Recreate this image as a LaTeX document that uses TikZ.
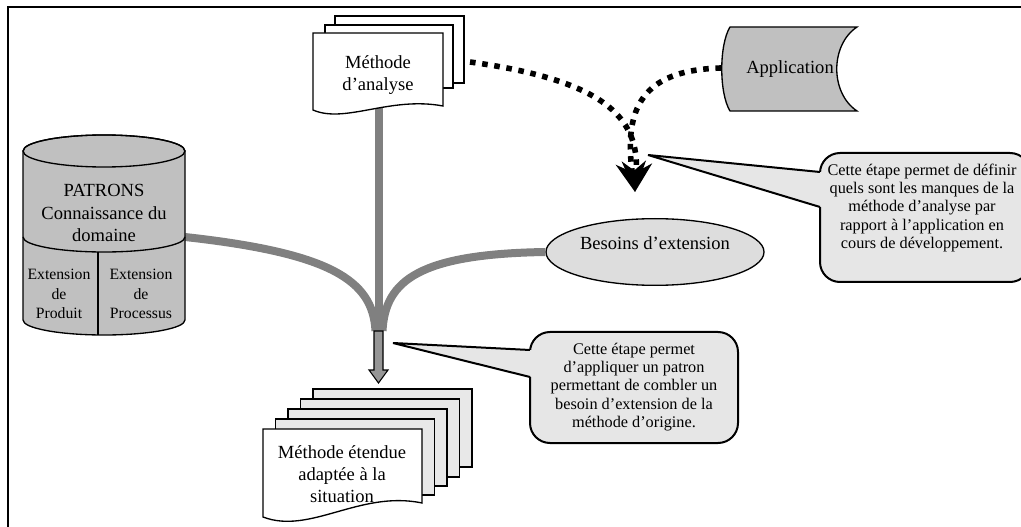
\documentclass[tikz,border=0pt]{standalone}
\usepackage{fontspec}
\setmainfont{Liberation Serif}
\usetikzlibrary{arrows.meta,shapes.geometric}
\definecolor{darkfill}{HTML}{C0C0C0}
\definecolor{lightfill}{HTML}{DDDDDD}
\definecolor{callfill}{HTML}{E6E6E6}
\definecolor{connector}{HTML}{808080}
\definecolor{blockfill}{HTML}{969696}
\definecolor{pagefill}{HTML}{E8E8E8}
\begin{document}
\begin{tikzpicture}[x=0.75pt,y=-0.75pt,
  outline/.style={draw=black,line width=1pt},
  maintext/.style={font=\fontsize{13.9}{16.6}\selectfont, align=center, inner sep=0pt},
  smalltext/.style={font=\fontsize{11.8}{14.5}\selectfont, align=center, inner sep=0pt},
  calltext/.style={font=\fontsize{12.2}{13.8}\selectfont, align=center, inner sep=0pt},
  whitepage/.style={outline, fill=white},
  backpage/.style={outline, fill=pagefill},
  flow/.style={draw=connector, line width=6pt},
  dotflow/.style={draw=black, line width=4.2pt, dash pattern=on 4.2pt off 5pt,
    -{Stealth[length=22pt,width=22.5pt,inset=7pt]}},
  callbox/.style={draw=black, line width=1.5pt, fill=callfill, rounded corners=15pt},
  pointer/.style={draw=black, line width=1.5pt},
]
\useasboundingbox (0,0) rectangle (1021,527);
% frame
\draw[line width=1.5pt] (8,527) -- (8,7) -- (1021,7);

% named anchor points
\coordinate (ma-s) at (379,108);
\coordinate (ma-e) at (470,62);
\coordinate (app-w) at (721,68);
\coordinate (cyl-e) at (185,237);
\coordinate (join-l) at (375.5,331);
\coordinate (join-r) at (382.5,331);
\coordinate (join) at (379,331);
\coordinate (head) at (635,192);
\coordinate (tip1) at (648,155);
\coordinate (tip2) at (393,343);

% ellipse node (needed for connector)
\node[ellipse, draw=black, line width=1pt, fill=lightfill, minimum width=163.5pt, minimum height=50pt, inner sep=0pt] (besoins) at (655,252) {};
\node[maintext] (besoinstext) at (655,243) {Besoins d’extension};

% gray flows
\draw[flow] (ma-s) -- (join);
\draw[flow] (cyl-e) .. controls (330,253) and (373,280) .. (join-l);
\draw[flow] (besoins.west) .. controls (420,254) and (385,280) .. (join-r);

% block arrow
\draw[outline, fill=blockfill, line width=0.8pt] (374,331) -- (383,331) -- (383,370) -- (388,370) -- (378.5,383) -- (369,370) -- (374,370) -- cycle;

% Methode d'analyse (multi document)
\draw[whitepage] (335,16) rectangle (464,83);
\draw[whitepage] (325,25) rectangle (453,88);
\draw[whitepage] (313,33) -- (443,33) -- (443,106) .. controls (390,96) and (345,124) .. (313,110) -- cycle;
\node[maintext] (ma) at (378,75) {Méthode\\d’analyse};

% Application (stored data)
\draw[outline, fill=darkfill] (730,27) -- (857,27) .. controls (830,45) and (830,93) .. (857,111) -- (730,111) .. controls (719,93) and (719,45) .. (730,27) -- cycle;
\node[maintext] (app) at (790,69) {Application};

% dotted arrows
\draw[dotflow] (ma-e) .. controls (600,80) and (640,115) .. (head);
\draw[dotflow] (app-w) .. controls (650,70) and (622,100) .. (head);

% cylinder PATRONS
\draw[outline, fill=darkfill] (23,151) -- (23,320) arc[start angle=180, end angle=0, x radius=81, y radius=15] -- (185,151) arc[start angle=0, end angle=-180, x radius=81, y radius=16] -- cycle;
\draw[outline] (104,151) ellipse [x radius=81, y radius=16];
\draw[outline] (23,237) arc[start angle=180, end angle=0, x radius=81, y radius=15];
\draw[outline] (98,252) -- (98,335);
\node[maintext] (patrons) at (104,213) {PATRONS\\Connaissance du\\domaine};
\node[smalltext] (prod) at (59,294) {Extension\\de\\Produit};
\node[smalltext] (proc) at (141,294) {Extension\\de\\Processus};

% callout 1
\draw[callbox] (820,153) rectangle (1030,282);
\fill[callfill] (tip1) -- (823,172.3) -- (823,207.6) -- cycle;
\draw[pointer] (820,172) -- (tip1) -- (820,207);
\node[calltext] (c1) at (922,208) {Cette étape permet de définir\\quels sont les manques de la\\méthode d’analyse par\\rapport à l’application en\\cours de développement.};

% callout 2
\draw[callbox] (530,332) rectangle (738,443);
\fill[callfill] (tip2) -- (533,350.2) -- (533,377.3) -- cycle;
\draw[pointer] (530,350) -- (tip2) -- (530,377);
\node[calltext] (c2) at (634,387) {Cette étape permet\\d’appliquer un patron\\permettant de combler un\\besoin d’extension de la\\méthode d’origine.};

% Methode etendue (multi document)
\draw[backpage] (313,389) rectangle (472,467);
\draw[backpage] (300.5,399) rectangle (459.5,477);
\draw[backpage] (288,409) rectangle (447,486);
\draw[backpage] (275.5,419) rectangle (434.5,495);
\draw[whitepage] (263,429) -- (422,429) -- (422,503) .. controls (360,490) and (310,535) .. (263,517) -- cycle;
\node[maintext] (me) at (342,474) {Méthode étendue\\adaptée à la\\situation};
\end{tikzpicture}
\end{document}
